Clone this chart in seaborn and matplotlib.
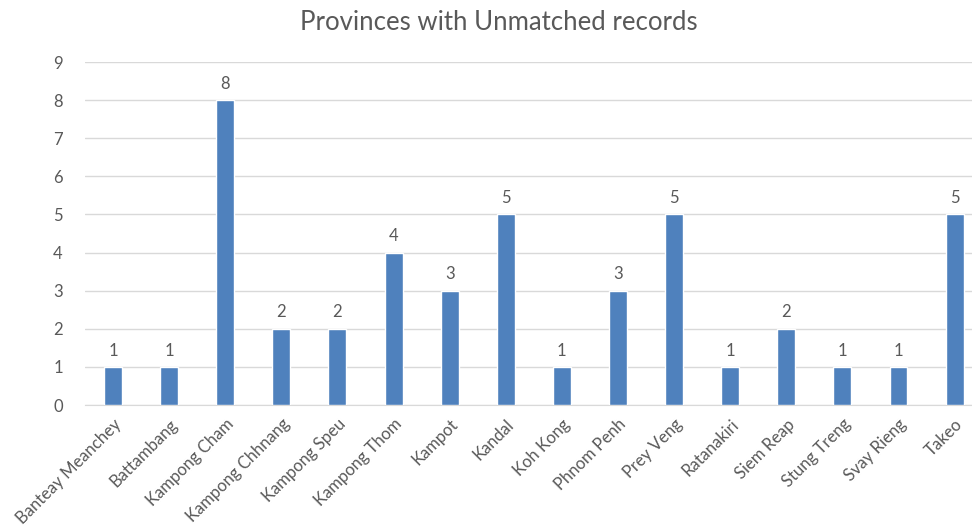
import matplotlib
matplotlib.use('Agg')
import matplotlib.pyplot as plt
import seaborn as sns
import pandas as pd

provinces = ['Banteay Meanchey', 'Battambang', 'Kampong Cham', 'Kampong Chhnang', 'Kampong Speu',
             'Kampong Thom', 'Kampot', 'Kandal', 'Koh Kong', 'Phnom Penh', 'Prey Veng',
             'Ratanakiri', 'Siem Reap', 'Stung Treng', 'Svay Rieng', 'Takeo']
counts = [1, 1, 8, 2, 2, 4, 3, 5, 1, 3, 5, 1, 2, 1, 1, 5]

df = pd.DataFrame({'province': provinces, 'count': counts})

sns.set_style('white')
plt.rcParams['font.family'] = ['Lato', 'DejaVu Sans']
text_color = '#595959'

fig = plt.figure(figsize=(9.72, 5.27), dpi=100)
ax = fig.add_axes([85 / 972, 122 / 527, 887 / 972, 343 / 527])

sns.barplot(data=df, x='province', y='count', color='#4F81BD', saturation=1, width=0.32, ax=ax, zorder=3)

ax.set_ylim(0, 9)
ax.set_yticks(range(0, 10))
ax.set_xlim(-0.5, 15.31)
ax.grid(axis='y', color='#D9D9D9', linewidth=1, zorder=0)
for s in ['top', 'right', 'left']:
    ax.spines[s].set_visible(False)
ax.spines['bottom'].set_color('#D9D9D9')
ax.tick_params(axis='both', length=0, labelsize=12, colors=text_color)
ax.tick_params(axis='x', pad=8)
ax.tick_params(axis='y', pad=16)
ax.set_xticks(range(len(provinces)))
ax.set_xticklabels(provinces, rotation=45, ha='right', rotation_mode='anchor')
ax.set_xlabel('')
ax.set_ylabel('')

for container in ax.containers:
    ax.bar_label(container, padding=6, fontsize=12, color=text_color)

fig.text(499 / 972, 1 - 22 / 527, 'Provinces with Unmatched records', ha='center', va='center',
         fontsize=18.5, color=text_color)

fig.savefig('out.png', dpi=100)
